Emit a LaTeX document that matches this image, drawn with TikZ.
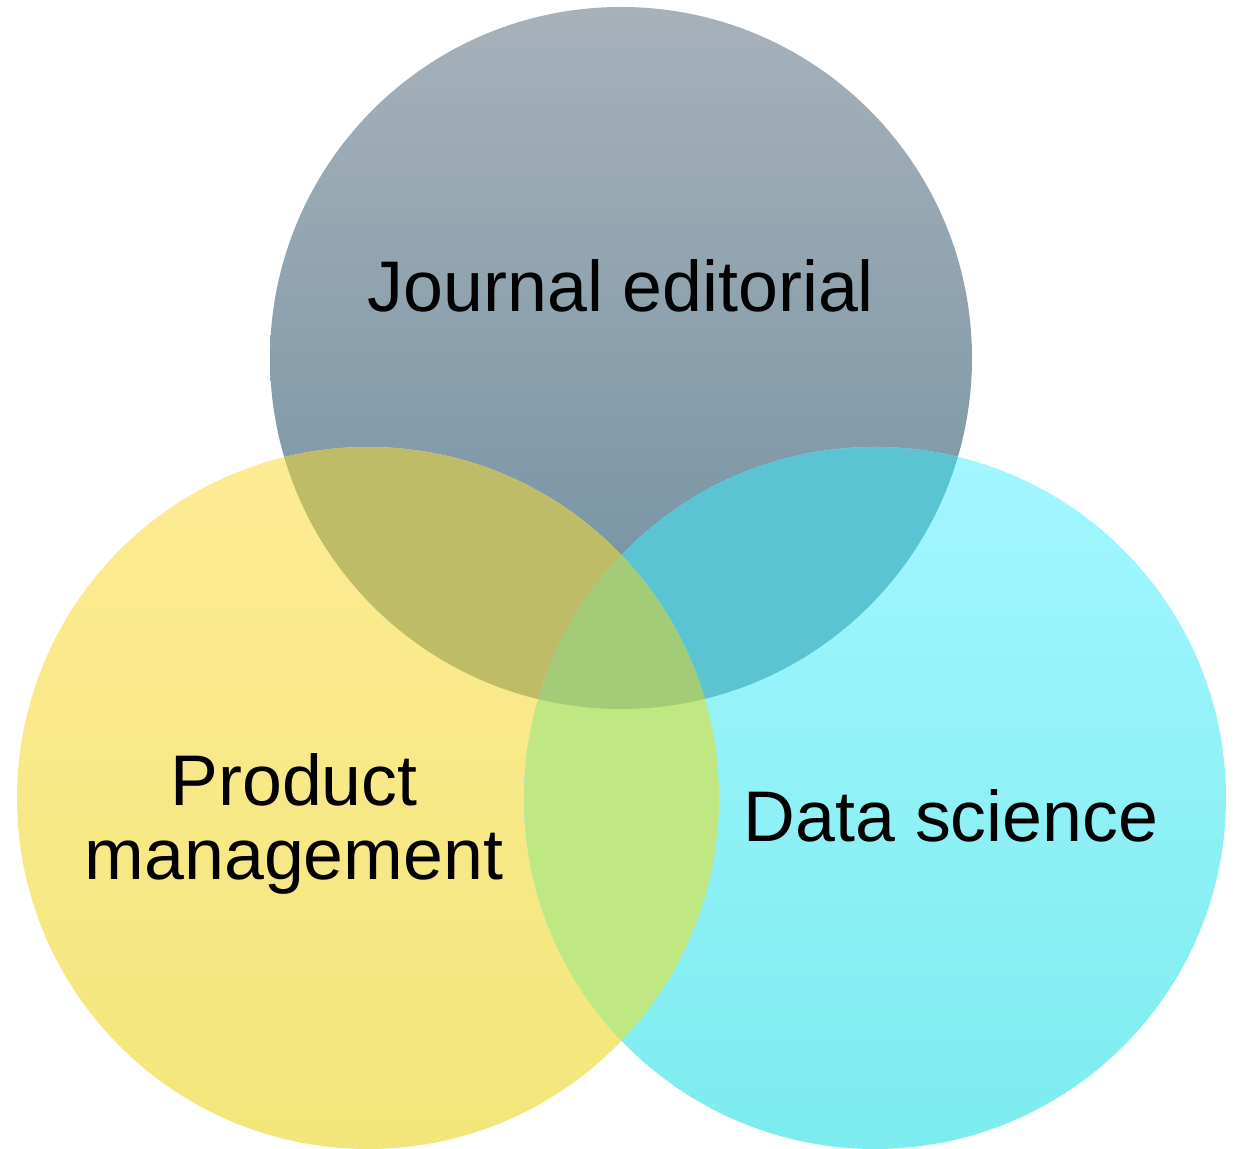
\documentclass[tikz,border=0pt]{standalone}
\usepackage{fontspec}
\setmainfont{Liberation Sans}
\usepackage{tikz}

\definecolor{journaltop}{HTML}{A7B1BA}
\definecolor{journalbot}{HTML}{6E8FA0}
\definecolor{producttop}{HTML}{FDEB94}
\definecolor{productbot}{HTML}{F2E67A}
\definecolor{datatop}{HTML}{A3F6FF}
\definecolor{databot}{HTML}{7CECEE}
\definecolor{jpcolor}{HTML}{BFBC68}
\definecolor{jdcolor}{HTML}{5BC4D2}
\definecolor{pdcolor}{HTML}{C0E882}
\definecolor{allcolor}{HTML}{A2CC78}

\newcommand{\vennrad}{3.51}

\tikzset{
  venntext/.style={font=\fontsize{20.4}{21.2}\selectfont, align=center, anchor=base, inner sep=0pt},
}

\begin{document}
\begin{tikzpicture}
\useasboundingbox (0,0) rectangle (12.38,11.49);
\coordinate (jc) at (6.21,7.91);
\coordinate (pc) at (3.68,3.51);
\coordinate (dc) at (8.75,3.51);
% the three sets
\shade[top color=journaltop, bottom color=journalbot] (jc) circle (\vennrad);
\shade[top color=producttop, bottom color=productbot] (pc) circle (\vennrad);
\shade[top color=datatop, bottom color=databot] (dc) circle (\vennrad);
% pairwise overlaps
\begin{scope}
\clip (jc) circle (\vennrad);
\fill[jpcolor] (pc) circle (\vennrad);
\fill[jdcolor] (dc) circle (\vennrad);
\end{scope}
\begin{scope}
\clip (pc) circle (\vennrad);
\fill[pdcolor] (dc) circle (\vennrad);
\end{scope}
% middle
\begin{scope}
\clip (jc) circle (\vennrad);
\clip (pc) circle (\vennrad);
\fill[allcolor] (dc) circle (\vennrad);
\end{scope}
% labels
\node[venntext] (journal) at (6.21,8.37) {Journal editorial};
\node[venntext] (product) at (2.94,2.69) {Product\\management};
\node[venntext] (data) at (9.51,3.07) {Data science};
\end{tikzpicture}
\end{document}
